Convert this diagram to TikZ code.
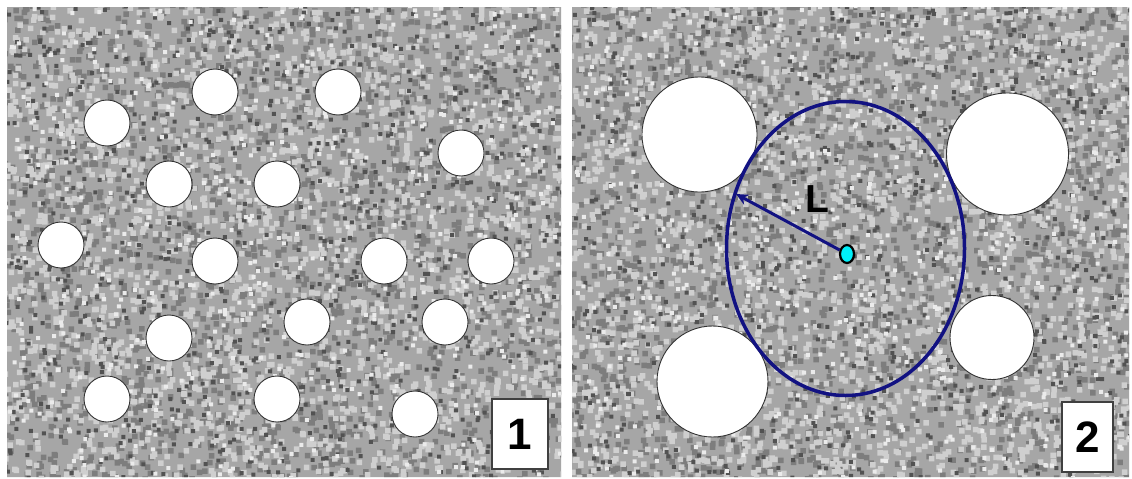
\documentclass[tikz,border=0pt]{standalone}
\usepackage{fontspec}
\setmainfont{Liberation Sans}
\usetikzlibrary{shapes.geometric,arrows.meta}
\definecolor{navy}{RGB}{18,18,130}
\definecolor{dotcyan}{RGB}{0,240,250}
\begin{document}
\begin{tikzpicture}[x=1pt,y=-1pt,
  hole/.style={circle,draw=black!80,line width=0.9pt,fill=white,inner sep=0pt},
  tag/.style={draw=black!75,line width=1.5pt,fill=white,inner sep=0pt,
    font=\fontsize{44}{44}\selectfont\bfseries},
  ring/.style={ellipse,draw=navy,line width=3.5pt,inner sep=0pt},
  centre/.style={ellipse,draw=black,line width=2.2pt,fill=dotcyan,inner sep=0pt,
    minimum width=14,minimum height=18},
  arr/.style={draw=navy,line width=3pt,-{Stealth[length=12pt,width=11pt]}}]
\useasboundingbox (0,0) rectangle (1132,479);
\fill[white] (0,0) rectangle (1132,479);
\pgfmathsetseed{4242}
% noise texture in both panels
\begin{scope}
\clip (7,7) rectangle (561,477) (572,7) rectangle (1129,477);
\fill[black!35] (0,0) rectangle (1132,479);
\fill[black!51] \foreach \k in {1,...,4400}{({2+1127*rnd},{2+475*rnd}) rectangle ++(5.5,5.5)};
\fill[black!19] \foreach \k in {1,...,4400}{({2+1127*rnd},{2+475*rnd}) rectangle ++(5.5,5.5)};
\fill[black!68] \foreach \k in {1,...,1500}{({3+1127*rnd},{3+475*rnd}) rectangle ++(4,4)};
\fill[black!8] \foreach \k in {1,...,1100}{({3+1127*rnd},{3+475*rnd}) rectangle ++(4,4)};
\end{scope}
% panel 1 holes
\foreach \n/\x/\y in {a/107/123, b/215/92, c/338/92, d/461/153, e/169/184,
  f/277/184, g/61/245, h/215/261, i/384/261, j/491/261, k/169/338,
  l/307/322, m/445/322, n/107/399, o/277/399, p/415/414}
  \node[hole,minimum size=46] (h\n) at (\x,\y) {};
\node[tag,minimum width=56,minimum height=70] (t1) at (520,434) {1};
% panel 2 holes
\node[hole,minimum size=115] (q1) at (699.5,134.5) {};
\node[hole,minimum size=111] (q2) at (712.5,381.5) {};
\node[hole,minimum size=122] (q3) at (1007.5,154) {};
\node[hole,minimum size=84] (q4) at (992,337.5) {};
\node[ring,minimum width=238,minimum height=294] (ell) at (845.5,248.5) {};
\node[centre] (dot) at (847,254) {};
\coordinate (tip) at (736,194);
\draw[arr] (dot) -- (tip);
\node[font=\fontsize{39}{39}\selectfont\bfseries] (lab) at (817,199) {L};
\node[tag,minimum width=51,minimum height=70] (t2) at (1087.5,437) {2};
\end{tikzpicture}
\end{document}
